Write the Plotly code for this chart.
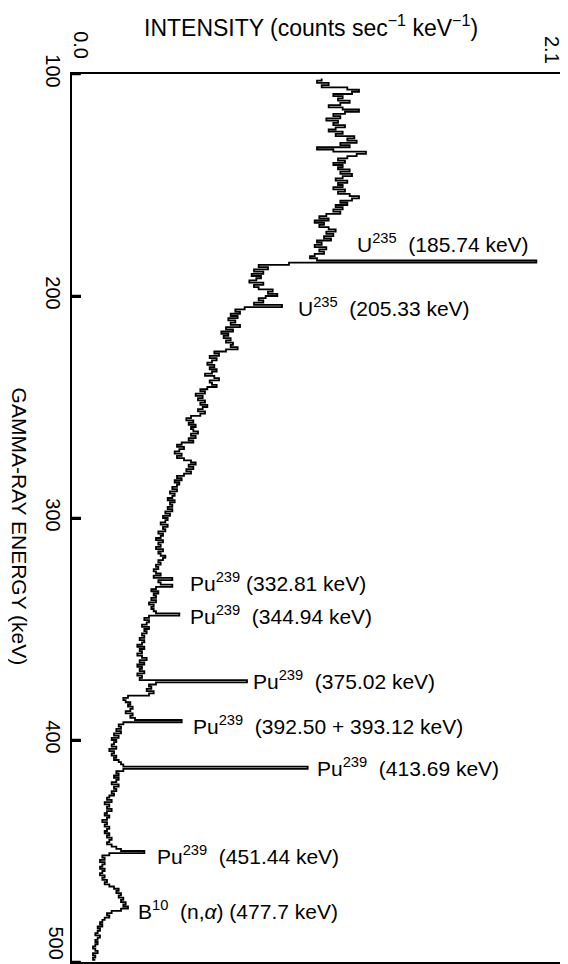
import plotly.graph_objects as go

# ---------------- data ----------------
energy_start_kev = 102
intensity = [
    1.07, 1.05, 1.10, 1.07, 1.18, 1.23, 1.20, 1.12, 1.16, 1.14,   # 102-111
    1.19, 1.15, 1.10, 1.16, 1.23, 1.17, 1.12, 1.15, 1.09, 1.14,   # 112-121
    1.12, 1.17, 1.13, 1.10, 1.16, 1.13, 1.21, 1.18, 1.22, 1.15,   # 122-131
    1.19, 1.05, 1.12, 1.26, 1.22, 1.18, 1.14, 1.17, 1.12, 1.16,   # 132-141
    1.14, 1.19, 1.15, 1.20, 1.16, 1.13, 1.18, 1.14, 1.16, 1.12,   # 142-151
    1.17, 1.14, 1.19, 1.23, 1.20, 1.15, 1.18, 1.13, 1.16, 1.12,   # 152-161
    1.15, 1.09, 1.06, 1.10, 1.04, 1.08, 1.06, 1.10, 1.13, 1.09,   # 162-171
    1.12, 1.08, 1.11, 1.05, 1.07, 1.04, 1.09, 1.06, 1.08, 1.04,   # 172-181
    1.02, 1.05, 1.99, 0.93, 0.80, 0.84, 0.78, 0.82, 0.77, 0.81,   # 182-191
    0.79, 0.76, 0.82, 0.78, 0.80, 0.86, 0.84, 0.88, 0.83, 0.80,   # 192-201
    0.82, 0.78, 0.90, 0.74, 0.70, 0.72, 0.68, 0.71, 0.67, 0.70,   # 202-211
    0.68, 0.72, 0.66, 0.69, 0.64, 0.67, 0.65, 0.68, 0.66, 0.69,   # 212-221
    0.68, 0.71, 0.66, 0.61, 0.63, 0.59, 0.62, 0.60, 0.58, 0.61,   # 222-231
    0.59, 0.62, 0.60, 0.57, 0.61, 0.63, 0.59, 0.60, 0.62, 0.58,   # 232-241
    0.55, 0.57, 0.53, 0.56, 0.54, 0.57, 0.55, 0.58, 0.56, 0.54,   # 242-251
    0.57, 0.55, 0.51, 0.49, 0.52, 0.50, 0.53, 0.51, 0.52, 0.54,   # 252-261
    0.51, 0.53, 0.50, 0.52, 0.47, 0.45, 0.48, 0.46, 0.44, 0.47,   # 262-271
    0.45, 0.48, 0.51, 0.53, 0.50, 0.52, 0.49, 0.51, 0.48, 0.45,   # 272-281
    0.47, 0.44, 0.46, 0.45, 0.43, 0.45, 0.42, 0.44, 0.43, 0.41,   # 282-291
    0.44, 0.42, 0.43, 0.41, 0.43, 0.40, 0.42, 0.39, 0.41, 0.40,   # 292-301
    0.38, 0.41, 0.39, 0.40, 0.37, 0.39, 0.38, 0.36, 0.39, 0.37,   # 302-311
    0.38, 0.36, 0.39, 0.37, 0.38, 0.40, 0.39, 0.37, 0.38, 0.36,   # 312-321
    0.37, 0.35, 0.36, 0.38, 0.35, 0.43, 0.37, 0.38, 0.43, 0.36,   # 322-331
    0.34, 0.37, 0.35, 0.36, 0.34, 0.36, 0.33, 0.35, 0.34, 0.35,   # 332-341
    0.36, 0.46, 0.33, 0.31, 0.33, 0.32, 0.30, 0.33, 0.31, 0.32,   # 342-351
    0.30, 0.31, 0.29, 0.31, 0.30, 0.28, 0.31, 0.29, 0.30, 0.28,   # 352-361
    0.30, 0.32, 0.29, 0.31, 0.28, 0.30, 0.29, 0.31, 0.28, 0.30,   # 362-371
    0.29, 0.75, 0.36, 0.33, 0.34, 0.32, 0.35, 0.33, 0.24, 0.22,   # 372-381
    0.23, 0.25, 0.24, 0.26, 0.25, 0.23, 0.26, 0.25, 0.27, 0.47,   # 382-391
    0.22, 0.20, 0.21, 0.19, 0.21, 0.18, 0.20, 0.17, 0.19, 0.18,   # 392-401
    0.17, 0.19, 0.16, 0.18, 0.17, 0.19, 0.18, 0.20, 0.21, 0.22,   # 402-411
    1.01, 0.22, 0.19, 0.20, 0.18, 0.20, 0.19, 0.17, 0.20, 0.18,   # 412-421
    0.19, 0.17, 0.18, 0.16, 0.15, 0.17, 0.14, 0.16, 0.15, 0.17,   # 422-431
    0.15, 0.14, 0.16, 0.15, 0.13, 0.15, 0.14, 0.16, 0.15, 0.14,   # 432-441
    0.16, 0.15, 0.17, 0.16, 0.15, 0.17, 0.19, 0.21, 0.31, 0.16,   # 442-451
    0.13, 0.14, 0.12, 0.14, 0.13, 0.12, 0.14, 0.13, 0.12, 0.14,   # 452-461
    0.13, 0.15, 0.14, 0.16, 0.18, 0.20, 0.19, 0.21, 0.20, 0.22,   # 462-471
    0.21, 0.23, 0.22, 0.24, 0.21, 0.17, 0.15, 0.16, 0.14, 0.13,   # 472-481
    0.12, 0.13, 0.11, 0.12, 0.11, 0.10, 0.12, 0.11, 0.10, 0.11,   # 482-491
    0.10, 0.09, 0.10, 0.11, 0.09, 0.10, 0.09, 0.10,               # 492-499
]
energy_kev = list(range(energy_start_kev, energy_start_kev + len(intensity)))

energy_ticks = [100, 200, 300, 400, 500]
energy_tick_labels = ["100", "200", "300", "400", ""]
energy_end_label = "500"          # drawn at the 500 tick, nudged inside the frame
intensity_ticks = [0.0, 2.1]
intensity_tick_labels = ["0.0", ""]
intensity_end_label = "2.1"       # drawn at the 2.1 tick, nudged inside the frame

peak_labels = [
    "U<sup>235</sup>  (185.74 keV)",
    "U<sup>235</sup>  (205.33 keV)",
    "Pu<sup>239</sup> (332.81 keV)",
    "Pu<sup>239</sup>  (344.94 keV)",
    "Pu<sup>239</sup>  (375.02 keV)",
    "Pu<sup>239</sup>  (392.50 + 393.12 keV)",
    "Pu<sup>239</sup>  (413.69 keV)",
    "Pu<sup>239</sup>  (451.44 keV)",
    "B<sup>10</sup>  (n,<i>α</i>) (477.7 keV)",
]

title_text = "INTENSITY (counts sec<sup>\u22121</sup> keV<sup>\u22121</sup>)"
energy_axis_title = "GAMMA-RAY ENERGY (keV)"

# ---------------- layout / styling ----------------
# The page body has an 8px margin, so the figure is 8px smaller on each
# axis and the plot frame lands at page pixels x 72..562, y 74..962.
FONT = "Liberation Sans, Arial, Helvetica, sans-serif"
W, H = 560, 956
M_L, M_R, M_T, M_B = 64, 6, 66, 2

# label anchor positions (intensity, energy) - placement only
label_positions = [
    (1.212, 176.0),
    (0.962, 205.0),
    (0.497, 328.8),
    (0.497, 343.7),
    (0.767, 373.0),
    (0.512, 393.2),
    (1.042, 412.2),
    (0.357, 451.8),
    (0.275, 476.6),
]

tick_font = dict(family=FONT, size=20, color="black")

fig = go.Figure()
fig.add_trace(go.Scatter(
    x=intensity, y=energy_kev, mode="lines",
    line=dict(color="black", width=1.8, shape="vh"),
    hoverinfo="skip", showlegend=False,
))

fig.update_layout(
    template="none",
    width=W, height=H,
    margin=dict(l=M_L, r=M_R, t=M_T, b=M_B, pad=0, autoexpand=False),
    paper_bgcolor="white", plot_bgcolor="white",
    font=dict(family=FONT, color="black"),
    showlegend=False,
    xaxis=dict(range=[0, 2.1], side="top", mirror=True, showline=True,
               linecolor="black", linewidth=2, showgrid=False, zeroline=False,
               automargin=False,
               tickvals=intensity_ticks, ticktext=intensity_tick_labels,
               ticks="", tickangle=90, tickfont=tick_font,
               ticklabelshift=8, ticklabelstandoff=6),
    yaxis=dict(range=[500, 100], mirror=True, showline=True,
               linecolor="black", linewidth=2, showgrid=False, zeroline=False,
               automargin=False,
               tickvals=energy_ticks, ticktext=energy_tick_labels,
               ticks="inside", ticklen=9, tickwidth=2.5, tickcolor="black",
               layer="above traces", tickangle=90, tickfont=tick_font),
)

# short inward tick marks on the energy axis (placed with the y scale)
for tv in energy_ticks:
    fig.add_shape(type="line", xref="paper", yref="y",
                  x0=0, x1=0.018, y0=tv, y1=tv,
                  line=dict(color="black", width=2.5))

annotations = []
for text, (px, py) in zip(peak_labels, label_positions):
    annotations.append(dict(
        x=px, y=py, xref="x", yref="y", text=text, showarrow=False,
        xanchor="left", yanchor="middle",
        font=dict(family=FONT, size=21, color="black"),
    ))
annotations.append(dict(
    x=0.0, y=energy_ticks[-1], xref="paper", yref="y", text=energy_end_label,
    showarrow=False, xanchor="right", yanchor="bottom", textangle=90,
    xshift=-3, yshift=1, font=tick_font,
))
annotations.append(dict(
    x=intensity_ticks[-1], y=1.0, xref="x", yref="paper", text=intensity_end_label,
    showarrow=False, xanchor="right", yanchor="bottom", textangle=90,
    xshift=3, yshift=8, font=tick_font,
))
annotations.append(dict(
    x=0.488, y=1.0735, xref="paper", yref="paper", text=title_text,
    showarrow=False, xanchor="center", yanchor="top",
    font=dict(family=FONT, size=23, color="black"),
))
annotations.append(dict(
    x=-0.1075, y=0.49, xref="paper", yref="paper", text=energy_axis_title,
    showarrow=False, xanchor="center", yanchor="middle", textangle=90,
    borderpad=0,
    font=dict(family=FONT, size=21, color="black"),
))
fig.update_layout(annotations=annotations)

fig.write_html("out.html")
